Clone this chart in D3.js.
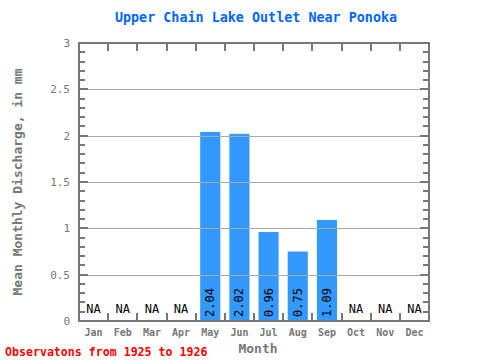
<!DOCTYPE html>
<html><head><meta charset="utf-8">
<script src="https://cdn.jsdelivr.net/npm/d3@7"></script>
<style>body{margin:0;background:#fff}svg{display:block}</style>
</head><body>
<script>
const months = ["Jan","Feb","Mar","Apr","May","Jun","Jul","Aug","Sep","Oct","Nov","Dec"];
const values = [null,null,null,null,2.04,2.02,0.96,0.75,1.09,null,null,null];
const yTicks = [0,0.5,1,1.5,2,2.5,3];
const yTickLabels = ["0","0.5","1","1.5","2","2.5","3"];
const title = "Upper Chain Lake Outlet Near Ponoka";
const yLabel = "Mean Monthly Discharge, in mm";
const xLabel = "Month";
const note = "Observatons from 1925 to 1926";

const W=480,H=360, L=79,R=429,T=43,B=321;
const font = "'DejaVu Sans Mono', 'Liberation Mono', monospace";
const svg = d3.select("body").append("svg").attr("width",W).attr("height",H);
const x = d3.scaleBand().domain(months).range([L,R]).paddingInner(0.31).paddingOuter(0.155);
const xb = d3.scaleLinear().domain([0,12]).range([L,R]);
const y = d3.scaleLinear().domain([0,3]).range([B,T]);

// bars
svg.selectAll("rect.bar").data(months.map((m,i)=>({m,v:values[i]})).filter(d=>d.v!==null))
  .enter().append("rect").attr("x",d=>x(d.m)).attr("width",x.bandwidth())
  .attr("y",d=>y(d.v)).attr("height",d=>B-y(d.v)).attr("fill","#3399ff");

// grid lines
svg.selectAll("line.grid").data(yTicks.slice(1,-1)).enter().append("line")
  .attr("x1",L).attr("x2",R).attr("y1",d=>Math.round(y(d))+0.5).attr("y2",d=>Math.round(y(d))+0.5)
  .attr("stroke","#aaaaaa").attr("stroke-width",1);

// minor/major ticks left and right
const minor = d3.range(0,31).map(i=>i/10);
const tk = svg.append("g").attr("stroke","#777").attr("stroke-width",2);
minor.forEach(v=>{
  const major = Math.abs(v*2-Math.round(v*2))<1e-6;
  const len = major?9:6;
  const yy = Math.round(y(v));
  tk.append("line").attr("x1",L).attr("x2",L+len).attr("y1",yy).attr("y2",yy);
  tk.append("line").attr("x1",R-len).attr("x2",R).attr("y1",yy).attr("y2",yy);
});
d3.range(1,12).forEach(i=>{
  const xx = Math.round(xb(i));
  tk.append("line").attr("x1",xx).attr("x2",xx).attr("y1",T).attr("y2",T+8);
  tk.append("line").attr("x1",xx).attr("x2",xx).attr("y1",B).attr("y2",B-8);
});

// frame
svg.append("rect").attr("x",L).attr("y",T).attr("width",R-L).attr("height",B-T)
  .attr("fill","none").attr("stroke","#777").attr("stroke-width",2);

// value labels
months.forEach((m,i)=>{
  const cx = x(m)+x.bandwidth()/2;
  if(values[i]===null){
    svg.append("text").attr("x",cx).attr("y",B-8).attr("text-anchor","middle")
      .attr("font-family",font).attr("font-size",12).attr("fill","#000").text("NA");
  } else {
    svg.append("text").attr("transform",`translate(${cx+4},${B-4}) rotate(-90)`)
      .attr("font-family",font).attr("font-size",12).attr("fill","#000").text(values[i].toFixed(2));
  }
});

// y tick labels
yTicks.forEach((v,i)=>{
  svg.append("text").attr("x",L-9).attr("y",y(v)+4).attr("text-anchor","end")
    .attr("font-family",font).attr("font-size",11).attr("fill","#777").text(yTickLabels[i]);
});
// x tick labels
months.forEach(m=>{
  svg.append("text").attr("x",x(m)+x.bandwidth()/2).attr("y",336).attr("text-anchor","middle")
    .attr("font-family",font).attr("font-size",10).attr("font-weight","bold").attr("fill","#777").text(m);
});
// titles
svg.append("text").attr("x",256).attr("y",22).attr("text-anchor","middle")
  .attr("font-family",font).attr("font-size",13.4).attr("font-weight","bold").attr("fill","#0066ff").text(title);
svg.append("text").attr("transform",`translate(22,${(T+B)/2}) rotate(-90)`).attr("text-anchor","middle")
  .attr("font-family",font).attr("font-size",13).attr("font-weight","bold").attr("fill","#777").text(yLabel);
svg.append("text").attr("x",258).attr("y",353).attr("text-anchor","middle")
  .attr("font-family",font).attr("font-size",13).attr("font-weight","bold").attr("fill","#777").text(xLabel);
svg.append("text").attr("x",5).attr("y",356)
  .attr("font-family",font).attr("font-size",11.6).attr("font-weight","bold").attr("fill","#ff0000").text(note);
</script>
</body></html>
